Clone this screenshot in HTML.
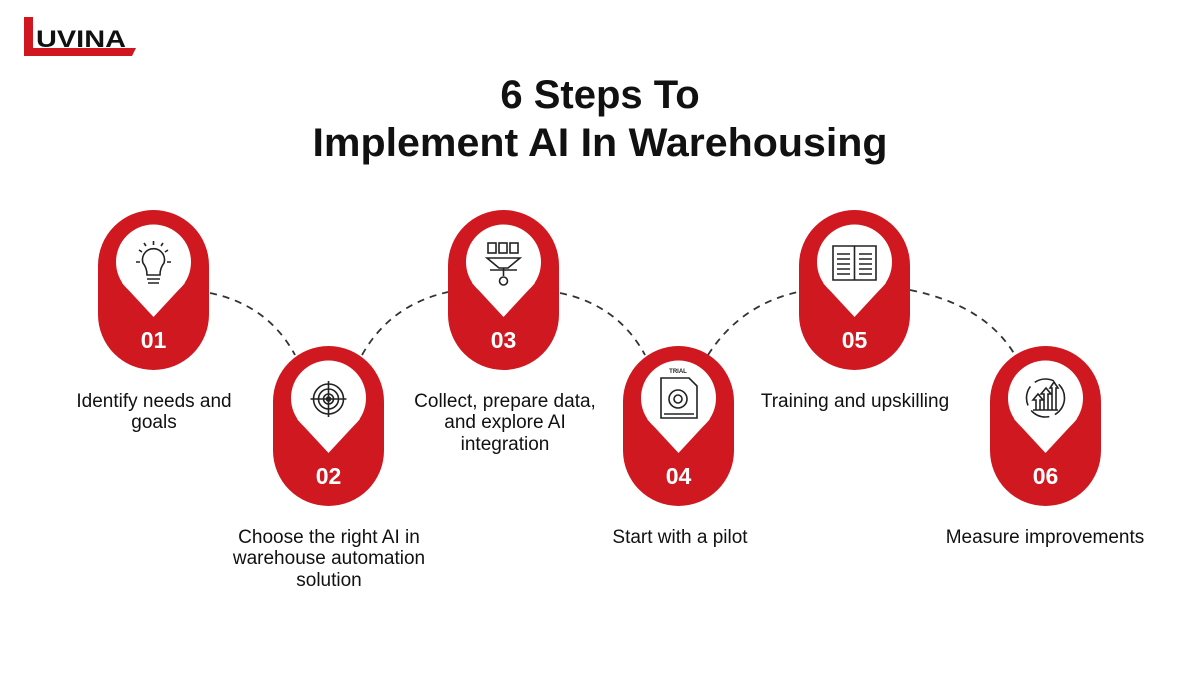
<!DOCTYPE html>
<html><head><meta charset="utf-8"><style>
html,body{margin:0;padding:0;background:#fff;}
svg{display:block}
text{font-family:"Liberation Sans",sans-serif;}
</style></head><body>
<svg width="1200" height="675" viewBox="0 0 1200 675" xmlns="http://www.w3.org/2000/svg">
<rect width="1200" height="675" fill="#fff"/>
<polygon points="24,17 33,17 33,48 136,48 132,56 24,56" fill="#d0161f"/>
<text x="36" y="47" font-size="24" font-weight="bold" fill="#111" textLength="90" lengthAdjust="spacingAndGlyphs">UVINA</text>
<text x="600" y="108" text-anchor="middle" font-size="40" font-weight="bold" fill="#111">6 Steps To</text>
<text x="600" y="156" text-anchor="middle" font-size="40" font-weight="bold" fill="#111" textLength="575" lengthAdjust="spacingAndGlyphs">Implement AI In Warehousing</text>
<g fill="none" stroke="#333" stroke-width="1.8" stroke-dasharray="7,6">
<path d="M210,293 Q268,305 295,355"/>
<path d="M362,355 Q390,305 448,292"/>
<path d="M560,293 Q618,305 645,355"/>
<path d="M708,355 Q740,305 798,292"/>
<path d="M910,290 Q985,305 1015,355"/>
</g>
<g fill="#cf1820">
<rect x="98" y="210" width="111" height="160" rx="55.5"/>
<rect x="273" y="346" width="111" height="160" rx="55.5"/>
<rect x="448" y="210" width="111" height="160" rx="55.5"/>
<rect x="623" y="346" width="111" height="160" rx="55.5"/>
<rect x="799" y="210" width="111" height="160" rx="55.5"/>
<rect x="990" y="346" width="111" height="160" rx="55.5"/>
</g>
<g fill="#fff">
<circle cx="153.5" cy="262" r="37.5"/><polygon points="122,283 185,283 153.5,317"/>
<circle cx="328.5" cy="398" r="37.5"/><polygon points="297,419 360,419 328.5,453"/>
<circle cx="503.5" cy="262" r="37.5"/><polygon points="472,283 535,283 503.5,317"/>
<circle cx="678.5" cy="398" r="37.5"/><polygon points="647,419 710,419 678.5,453"/>
<circle cx="854.5" cy="262" r="37.5"/><polygon points="823,283 886,283 854.5,317"/>
<circle cx="1045.5" cy="398" r="37.5"/><polygon points="1014,419 1077,419 1045.5,453"/>
</g>
<g fill="#fff" font-size="23" font-weight="bold" text-anchor="middle">
<text x="153.5" y="348">01</text>
<text x="328.5" y="484">02</text>
<text x="503.5" y="348">03</text>
<text x="678.5" y="484">04</text>
<text x="854.5" y="348">05</text>
<text x="1045.5" y="484">06</text>
</g>
<g fill="none" stroke="#222" stroke-width="1.6">
<path d="M147,275 Q147,268 143,263 A11,11 0 1 1 164,263 Q160,268 160,275 Z"/>
<path d="M147,279 H160 M148,283 H159"/>
<path d="M153.5,241 V245 M139,250 L142,252 M168,250 L165,252 M136,262 H140 M167,262 H171 M144,243 L146,246 M163,243 L161,246"/>
<circle cx="328.5" cy="399" r="15"/><circle cx="328.5" cy="399" r="10"/><circle cx="328.5" cy="399" r="5"/>
<circle cx="328.5" cy="399" r="2" fill="#222"/>
<path d="M328.5,381 V417 M310.5,399 H346.5"/>
<rect x="488" y="243" width="8" height="10"/><rect x="499" y="243" width="8" height="10"/><rect x="510" y="243" width="8" height="10"/>
<path d="M487,258 H520 L508,268 H499 Z M490,270 H517 M503.5,268 V276"/>
<circle cx="503.5" cy="281" r="4"/>
<path d="M661,378 H689 L697,386 V418 H661 Z"/>
<circle cx="678" cy="399" r="9"/><circle cx="678" cy="399" r="4"/>
<path d="M664,414 H694"/>
<path d="M833,246 H854.5 V280 H833 Z M854.5,246 H876 V280 H854.5 Z"/>
<path d="M837,254 H850 M837,259 H850 M837,264 H850 M837,269 H850 M837,274 H850 M859,254 H872 M859,259 H872 M859,264 H872 M859,269 H872 M859,274 H872"/>
<circle cx="1045.5" cy="398" r="19" stroke-dasharray="20,6"/>
<path d="M1033,410 H1058 M1036,410 V400 L1033,400 L1038,394 L1043,400 L1040,400 V410 M1044,410 V394 L1041,394 L1046,388 L1051,394 L1048,394 V410 M1052,410 V388 L1050,388 L1054,382 L1058,388 L1056,388 V410"/>
</g>
<text x="678" y="373" font-size="6" fill="#222" font-weight="bold" text-anchor="middle">TRIAL</text>
<g fill="#111" font-size="19" text-anchor="middle">
<text x="154" y="407">Identify needs and</text>
<text x="154" y="428">goals</text>
<text x="329" y="543">Choose the right AI in</text>
<text x="329" y="564">warehouse automation</text>
<text x="329" y="586">solution</text>
<text x="505" y="407">Collect, prepare data,</text>
<text x="505" y="428">and explore AI</text>
<text x="505" y="450">integration</text>
<text x="680" y="543">Start with a pilot</text>
<text x="855" y="407">Training and upskilling</text>
<text x="1045" y="543">Measure improvements</text>
</g>
</svg>
</body></html>
